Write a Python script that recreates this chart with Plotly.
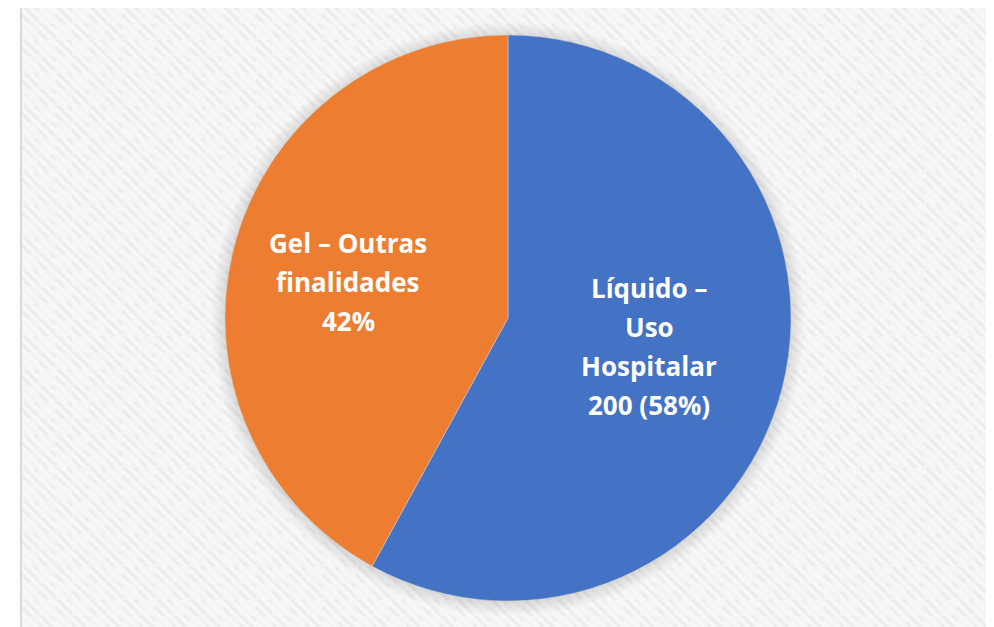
import plotly.graph_objects as go
import base64

# Data
categories = ["Líquido – Uso Hospitalar", "Gel – Outras finalidades"]
values = [200, 145]
label_lines = [["Líquido –", "Uso", "Hospitalar", "200 (58%)"],
               ["Gel – Outras", "finalidades", "42%"]]
colors = ["#4472C4", "#ED7D31"]

W, H = 994, 627
OFF = 8  # page body margin offset

def px(x):
    return (x - OFF) / W

def py(y):
    return 1 - (y - OFF) / H

# Subtle patterned background (diagonal stripes in a checker pattern)
svg = (
    '<svg xmlns="http://www.w3.org/2000/svg" width="1000" height="640">'
    '<defs>'
    '<pattern id="a" width="7" height="7" patternUnits="userSpaceOnUse" patternTransform="rotate(-45)">'
    '<rect width="7" height="7" fill="#f8f8f8"/><rect width="3" height="7" fill="#ececec"/></pattern>'
    '<pattern id="c" width="32" height="32" patternUnits="userSpaceOnUse">'
    '<rect width="32" height="32" fill="url(#a)"/>'
    '<rect x="16" y="0" width="16" height="16" fill="#f7f7f7" opacity="0.7"/>'
    '<rect x="0" y="16" width="16" height="16" fill="#f7f7f7" opacity="0.7"/>'
    '</pattern></defs>'
    '<rect width="1000" height="640" fill="url(#c)"/></svg>'
)
src = "data:image/svg+xml;base64," + base64.b64encode(svg.encode()).decode()

cx, cy, r = 508, 318, 283

fig = go.Figure(
    go.Pie(
        labels=categories,
        values=values,
        marker=dict(colors=colors, line=dict(width=0.5, color="#d0d0d0")),
        sort=False,
        direction="clockwise",
        rotation=0,
        textinfo="none",
        hoverinfo="label+value+percent",
        showlegend=False,
        domain=dict(
            x=[px(cx - r), px(cx + r)],
            y=[py(cy + r), py(cy - r)],
        ),
    )
)

fig.add_layout_image(
    dict(source=src, xref="paper", yref="paper", x=px(22), y=py(7),
         sizex=1.05, sizey=1.05, xanchor="left", yanchor="top",
         sizing="stretch", layer="below")
)

fig.add_shape(type="rect", xref="paper", yref="paper",
              x0=px(21), x1=1.05, y0=-0.05, y1=py(6.5),
              line=dict(color="#d9d9d9", width=2), fillcolor="rgba(0,0,0,0)", layer="below")

# soft glow shadow around the pie
for k in range(14, 0, -1):
    rr = r + k
    fig.add_shape(type="circle", xref="paper", yref="paper",
                  x0=px(cx - rr), x1=px(cx + rr), y0=py(cy + rr + 1), y1=py(cy - rr + 1),
                  line=dict(width=0), fillcolor="rgba(0,0,0,0.009)", layer="below")

font = dict(family="'Open Sans', sans-serif", size=26, color="white", weight="bold")
anchors = [(649, 288), (348, 243)]
line_gap = 39
for lines, (x0, y0) in zip(label_lines, anchors):
    for i, line in enumerate(lines):
        fig.add_annotation(x=px(x0), y=py(y0 + i * line_gap), xref="paper", yref="paper",
                           text=line, showarrow=False, font=font,
                           align="center", xanchor="center", yanchor="middle")

fig.update_layout(
    width=W, height=H,
    margin=dict(l=0, r=0, t=0, b=0),
    paper_bgcolor="white",
    plot_bgcolor="white",
)

fig.write_html("out.html")
